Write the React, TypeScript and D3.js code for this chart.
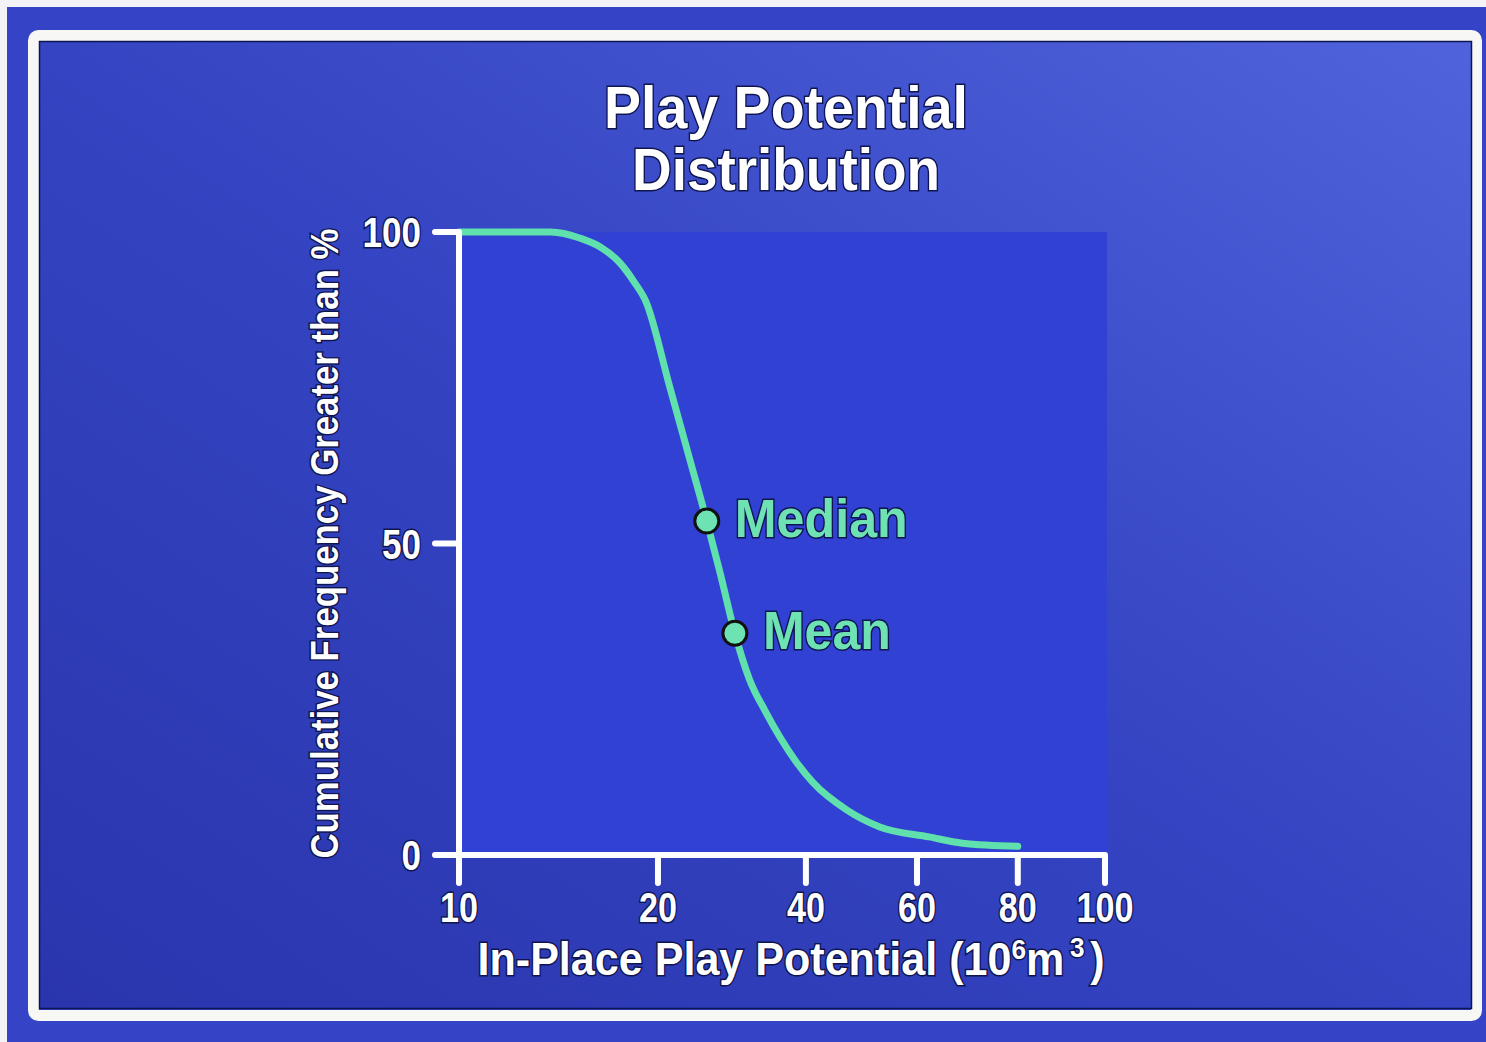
import { useMemo } from "react";
import * as d3 from "d3";

// Play potential — cumulative frequency (greater than %) vs in-place volume
const SIZE = [10, 14.6, 16.1, 17.1, 18.1, 18.8, 19.4, 21.6, 24.3, 26.6, 28.4, 30.4, 32.4, 34.5, 36.5, 38.6, 41.3, 47.4, 53.3, 62.4, 69, 80];
const FREQ = [100, 100, 99.0, 97.6, 95.0, 92.0, 88.8, 75.1, 63.5, 53.6, 45.3, 35.6, 28.1, 23.1, 18.9, 15.1, 11.6, 7.2, 4.5, 2.9, 1.9, 1.4];

const MARKER_LABELS = ["Median", "Mean"];
const MARKER_X = [26.6, 30.4];
const MARKER_Y = [53.6, 35.6];

const X_TICKS = [10, 20, 40, 60, 80, 100];
// the slide's x axis is hand-spaced (roughly log, compressed above 20)
const X_TICK_FRAC = [0, 0.308, 0.537, 0.709, 0.865, 1];
const Y_TICKS = [0, 50, 100];

const W = 1486;
const H = 1042;
const LEFT = 459;
const RIGHT = 1105;
const TOP = 232;
const BOTTOM = 855;

const FONT = "'Liberation Sans', Arial, Helvetica, sans-serif";
const MINT = "#5fe0ac";
const OUTLINE = "#0e1550";

export default function App() {
  const x = useMemo(
    () =>
      d3
        .scaleLinear()
        .domain(X_TICKS)
        .range(X_TICK_FRAC.map((f) => LEFT + f * (RIGHT - LEFT))),
    []
  );
  const y = useMemo(() => d3.scaleLinear().domain([0, 100]).range([BOTTOM, TOP]), []);

  const line = d3
    .line<number>()
    .x((_d, i) => x(SIZE[i]))
    .y((d) => y(d))
    .curve(d3.curveMonotoneX);

  const txt = {
    fontFamily: FONT,
    fontWeight: 700,
    stroke: OUTLINE,
    strokeWidth: 3,
    paintOrder: "stroke" as const,
  };

  return (
    <svg
      width={W}
      height={H}
      style={{ position: "absolute", left: 0, top: 0, display: "block" }}
    >
      <defs>
        <linearGradient id="slide" x1="0" y1="1" x2="1" y2="0">
          <stop offset="0" stopColor="#2a35ad" />
          <stop offset="0.5" stopColor="#3444c2" />
          <stop offset="1" stopColor="#5062dc" />
        </linearGradient>
      </defs>

      {/* photo edge + slide background */}
      <rect width={W} height={H} fill="#f4f4f8" />
      <rect x={7} y={7} width={W - 7} height={H - 7} fill="#3543c6" />
      <rect x={39} y={41} width={1433} height={968} fill="url(#slide)" />
      <rect
        x={33.5}
        y={35.5}
        width={1443}
        height={980}
        rx={5}
        fill="none"
        stroke="#f7f7f5"
        strokeWidth={11}
      />
      <rect x={39.5} y={41.5} width={1432} height={967} fill="none" stroke={OUTLINE} strokeWidth={1.5} />

      {/* title */}
      <text x={786} y={128} textAnchor="middle" fontSize={60} fill="#fff" textLength={364} lengthAdjust="spacingAndGlyphs" style={txt}>
        Play Potential
      </text>
      <text x={786} y={190} textAnchor="middle" fontSize={60} fill="#fff" textLength={308} lengthAdjust="spacingAndGlyphs" style={txt}>
        Distribution
      </text>

      {/* plot area */}
      <rect x={x(10)} y={y(100)} width={x(100) - x(10) + 2} height={y(0) - y(100)} fill="#3141d4" />

      {/* curve */}
      <path d={line(FREQ) || ""} fill="none" stroke={MINT} strokeWidth={7} strokeLinecap="round" />

      {/* axes */}
      <line x1={x(10)} x2={x(10)} y1={y(100)} y2={y(0)} stroke="#fff" strokeWidth={6} />
      <line x1={x(10)} x2={x(100)} y1={y(0)} y2={y(0)} stroke="#fff" strokeWidth={6} />
      {Y_TICKS.map((t) => (
        <g key={`y${t}`}>
          <line x1={x(10) - 24} x2={x(10)} y1={y(t)} y2={y(t)} stroke="#fff" strokeWidth={6} strokeLinecap="round" />
          <text x={x(10) - 38} y={y(t)} dy="0.36em" textAnchor="end" fontSize={42} fill="#fff" style={txt}
            textLength={String(t).length * 19.5} lengthAdjust="spacingAndGlyphs">
            {t}
          </text>
        </g>
      ))}
      {X_TICKS.map((t) => (
        <g key={`x${t}`}>
          <line x1={x(t)} x2={x(t)} y1={y(0)} y2={y(0) + 28} stroke="#fff" strokeWidth={6} strokeLinecap="round" />
          <text x={x(t)} y={922} textAnchor="middle" fontSize={42} fill="#fff" style={txt}
            textLength={String(t).length * 19} lengthAdjust="spacingAndGlyphs">
            {t}
          </text>
        </g>
      ))}

      {/* axis titles */}
      <text x={791} y={975} textAnchor="middle" fontSize={46} fill="#fff" style={txt}
        textLength={627} lengthAdjust="spacingAndGlyphs">
        In-Place Play Potential (10
        <tspan fontSize={28} dy={-16}>6</tspan>
        <tspan dy={16}>m</tspan>
        <tspan fontSize={28} dx={6} dy={-18}>3</tspan>
        <tspan dx={6} dy={18}>)</tspan>
      </text>
      <text
        transform={`translate(338, ${(TOP + BOTTOM) / 2}) rotate(-90)`}
        textAnchor="middle"
        fontSize={38}
        fill="#fff"
        style={txt}
        textLength={630}
        lengthAdjust="spacingAndGlyphs"
      >
        Cumulative Frequency Greater than %
      </text>

      {/* markers */}
      {MARKER_LABELS.map((label, i) => (
        <g key={label}>
          <circle cx={x(MARKER_X[i])} cy={y(MARKER_Y[i])} r={12} fill="#6de3b4" stroke="#111" strokeWidth={3} />
          <text
            x={x(MARKER_X[i]) + 28}
            y={y(MARKER_Y[i]) + 16}
            fontSize={54}
            fill="#6ee2b2"
            style={txt}
            textLength={label === "Median" ? 173 : 128}
            lengthAdjust="spacingAndGlyphs"
          >
            {label}
          </text>
        </g>
      ))}
    </svg>
  );
}
